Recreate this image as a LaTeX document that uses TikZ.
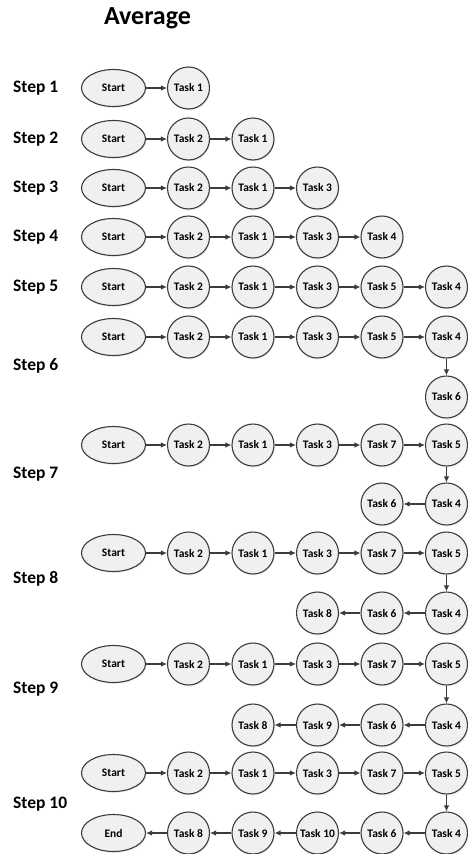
\documentclass[tikz,border=0pt]{standalone}
\usepackage{fontspec}
\setmainfont{Carlito}
\usetikzlibrary{arrows.meta,positioning,shapes.geometric,shadows}
\definecolor{nodefill}{HTML}{F0F0F0}
\definecolor{nodeline}{HTML}{3C3C3C}
\tikzset{
  tasknode/.style={circle,draw=nodeline,fill=nodefill,line width=1.1pt,inner sep=0pt,
    minimum size=42pt,font=\fontsize{11.5}{13}\selectfont\bfseries,
    drop shadow={shadow xshift=1pt,shadow yshift=-1.5pt,opacity=.12}},
  startnode/.style={tasknode,ellipse,minimum width=64pt,minimum height=37pt},
  steplabel/.style={anchor=west,inner sep=0pt,font=\fontsize{17.5}{20}\selectfont\bfseries},
  titletext/.style={inner sep=0pt,font=\fontsize{26}{30}\selectfont\bfseries},
  flowarrow/.style={-{Latex[length=6pt,width=5.5pt]},line width=1.1pt,draw=nodeline}
}

\begin{document}
\begin{tikzpicture}[x=1pt,y=-1pt]
  \useasboundingbox (0,0) rectangle (468,854);
  \node[titletext] (title) at (147.5,18) {Average};

  % step 1
  \node[steplabel] (lab1) at (13,88) {Step 1};
  \node[startnode] (s1st) at (113.5,88) {Start};
  \node[tasknode] (s1t1) at (188.5,88) {Task 1};
  \draw[flowarrow] (s1st) -- (s1t1);

  % step 2
  \node[steplabel] (lab2) at (13,139) {Step 2};
  \node[startnode] (s2st) at (113.5,139) {Start};
  \node[tasknode] (s2t2) at (188.5,139) {Task 2};
  \node[tasknode] (s2t1) at (253,139) {Task 1};
  \draw[flowarrow] (s2st) -- (s2t2);
  \draw[flowarrow] (s2t2) -- (s2t1);

  % step 3
  \node[steplabel] (lab3) at (13,188) {Step 3};
  \node[startnode] (s3st) at (113.5,188) {Start};
  \node[tasknode] (s3t2) at (188.5,188) {Task 2};
  \node[tasknode] (s3t1) at (253,188) {Task 1};
  \node[tasknode] (s3t3) at (317.5,188) {Task 3};
  \draw[flowarrow] (s3st) -- (s3t2);
  \draw[flowarrow] (s3t2) -- (s3t1);
  \draw[flowarrow] (s3t1) -- (s3t3);

  % step 4
  \node[steplabel] (lab4) at (13,237) {Step 4};
  \node[startnode] (s4st) at (113.5,237) {Start};
  \node[tasknode] (s4t2) at (188.5,237) {Task 2};
  \node[tasknode] (s4t1) at (253,237) {Task 1};
  \node[tasknode] (s4t3) at (317.5,237) {Task 3};
  \node[tasknode] (s4t4) at (382,237) {Task 4};
  \draw[flowarrow] (s4st) -- (s4t2);
  \draw[flowarrow] (s4t2) -- (s4t1);
  \draw[flowarrow] (s4t1) -- (s4t3);
  \draw[flowarrow] (s4t3) -- (s4t4);

  % step 5
  \node[steplabel] (lab5) at (13,287) {Step 5};
  \node[startnode] (s5st) at (113.5,287) {Start};
  \node[tasknode] (s5t2) at (188.5,287) {Task 2};
  \node[tasknode] (s5t1) at (253,287) {Task 1};
  \node[tasknode] (s5t3) at (317.5,287) {Task 3};
  \node[tasknode] (s5t5) at (382,287) {Task 5};
  \node[tasknode] (s5t4) at (446.5,287) {Task 4};
  \draw[flowarrow] (s5st) -- (s5t2);
  \draw[flowarrow] (s5t2) -- (s5t1);
  \draw[flowarrow] (s5t1) -- (s5t3);
  \draw[flowarrow] (s5t3) -- (s5t5);
  \draw[flowarrow] (s5t5) -- (s5t4);

  % step 6
  \node[steplabel] (lab6) at (13,366) {Step 6};
  \node[startnode] (s6st) at (113.5,337) {Start};
  \node[tasknode] (s6t2) at (188.5,337) {Task 2};
  \node[tasknode] (s6t1) at (253,337) {Task 1};
  \node[tasknode] (s6t3) at (317.5,337) {Task 3};
  \node[tasknode] (s6t5) at (382,337) {Task 5};
  \node[tasknode] (s6t4) at (446.5,337) {Task 4};
  \node[tasknode] (s6t6) at (446.5,397) {Task 6};
  \draw[flowarrow] (s6st) -- (s6t2);
  \draw[flowarrow] (s6t2) -- (s6t1);
  \draw[flowarrow] (s6t1) -- (s6t3);
  \draw[flowarrow] (s6t3) -- (s6t5);
  \draw[flowarrow] (s6t5) -- (s6t4);
  \draw[flowarrow] (s6t4) -- (s6t6);

  % step 7
  \node[steplabel] (lab7) at (13,474) {Step 7};
  \node[startnode] (s7st) at (113.5,445) {Start};
  \node[tasknode] (s7t2) at (188.5,445) {Task 2};
  \node[tasknode] (s7t1) at (253,445) {Task 1};
  \node[tasknode] (s7t3) at (317.5,445) {Task 3};
  \node[tasknode] (s7t7) at (382,445) {Task 7};
  \node[tasknode] (s7t5) at (446.5,445) {Task 5};
  \node[tasknode] (s7t4) at (446.5,504) {Task 4};
  \node[tasknode] (s7t6) at (382,504) {Task 6};
  \draw[flowarrow] (s7st) -- (s7t2);
  \draw[flowarrow] (s7t2) -- (s7t1);
  \draw[flowarrow] (s7t1) -- (s7t3);
  \draw[flowarrow] (s7t3) -- (s7t7);
  \draw[flowarrow] (s7t7) -- (s7t5);
  \draw[flowarrow] (s7t5) -- (s7t4);
  \draw[flowarrow] (s7t4) -- (s7t6);

  % step 8
  \node[steplabel] (lab8) at (13,579) {Step 8};
  \node[startnode] (s8st) at (113.5,553) {Start};
  \node[tasknode] (s8t2) at (188.5,553) {Task 2};
  \node[tasknode] (s8t1) at (253,553) {Task 1};
  \node[tasknode] (s8t3) at (317.5,553) {Task 3};
  \node[tasknode] (s8t7) at (382,553) {Task 7};
  \node[tasknode] (s8t5) at (446.5,553) {Task 5};
  \node[tasknode] (s8t4) at (446.5,613) {Task 4};
  \node[tasknode] (s8t6) at (382,613) {Task 6};
  \node[tasknode] (s8t8) at (317.5,613) {Task 8};
  \draw[flowarrow] (s8st) -- (s8t2);
  \draw[flowarrow] (s8t2) -- (s8t1);
  \draw[flowarrow] (s8t1) -- (s8t3);
  \draw[flowarrow] (s8t3) -- (s8t7);
  \draw[flowarrow] (s8t7) -- (s8t5);
  \draw[flowarrow] (s8t5) -- (s8t4);
  \draw[flowarrow] (s8t4) -- (s8t6);
  \draw[flowarrow] (s8t6) -- (s8t8);

  % step 9
  \node[steplabel] (lab9) at (13,689) {Step 9};
  \node[startnode] (s9st) at (113.5,664) {Start};
  \node[tasknode] (s9t2) at (188.5,664) {Task 2};
  \node[tasknode] (s9t1) at (253,664) {Task 1};
  \node[tasknode] (s9t3) at (317.5,664) {Task 3};
  \node[tasknode] (s9t7) at (382,664) {Task 7};
  \node[tasknode] (s9t5) at (446.5,664) {Task 5};
  \node[tasknode] (s9t4) at (446.5,725) {Task 4};
  \node[tasknode] (s9t6) at (382,725) {Task 6};
  \node[tasknode] (s9t9) at (317.5,725) {Task 9};
  \node[tasknode] (s9t8) at (253,725) {Task 8};
  \draw[flowarrow] (s9st) -- (s9t2);
  \draw[flowarrow] (s9t2) -- (s9t1);
  \draw[flowarrow] (s9t1) -- (s9t3);
  \draw[flowarrow] (s9t3) -- (s9t7);
  \draw[flowarrow] (s9t7) -- (s9t5);
  \draw[flowarrow] (s9t5) -- (s9t4);
  \draw[flowarrow] (s9t4) -- (s9t6);
  \draw[flowarrow] (s9t6) -- (s9t9);
  \draw[flowarrow] (s9t9) -- (s9t8);

  % step 10
  \node[steplabel] (lab10) at (13,804) {Step 10};
  \node[startnode] (s10st) at (113.5,773) {Start};
  \node[tasknode] (s10t2) at (188.5,773) {Task 2};
  \node[tasknode] (s10t1) at (253,773) {Task 1};
  \node[tasknode] (s10t3) at (317.5,773) {Task 3};
  \node[tasknode] (s10t7) at (382,773) {Task 7};
  \node[tasknode] (s10t5) at (446.5,773) {Task 5};
  \node[tasknode] (s10t4) at (446.5,833) {Task 4};
  \node[tasknode] (s10t6) at (382,833) {Task 6};
  \node[tasknode] (s10t10) at (317.5,833) {Task 10};
  \node[tasknode] (s10t9) at (253,833) {Task 9};
  \node[tasknode] (s10t8) at (188.5,833) {Task 8};
  \node[startnode] (s10end) at (113.5,833) {End};
  \draw[flowarrow] (s10st) -- (s10t2);
  \draw[flowarrow] (s10t2) -- (s10t1);
  \draw[flowarrow] (s10t1) -- (s10t3);
  \draw[flowarrow] (s10t3) -- (s10t7);
  \draw[flowarrow] (s10t7) -- (s10t5);
  \draw[flowarrow] (s10t5) -- (s10t4);
  \draw[flowarrow] (s10t4) -- (s10t6);
  \draw[flowarrow] (s10t6) -- (s10t10);
  \draw[flowarrow] (s10t10) -- (s10t9);
  \draw[flowarrow] (s10t9) -- (s10t8);
  \draw[flowarrow] (s10t8) -- (s10end);
\end{tikzpicture}
\end{document}
